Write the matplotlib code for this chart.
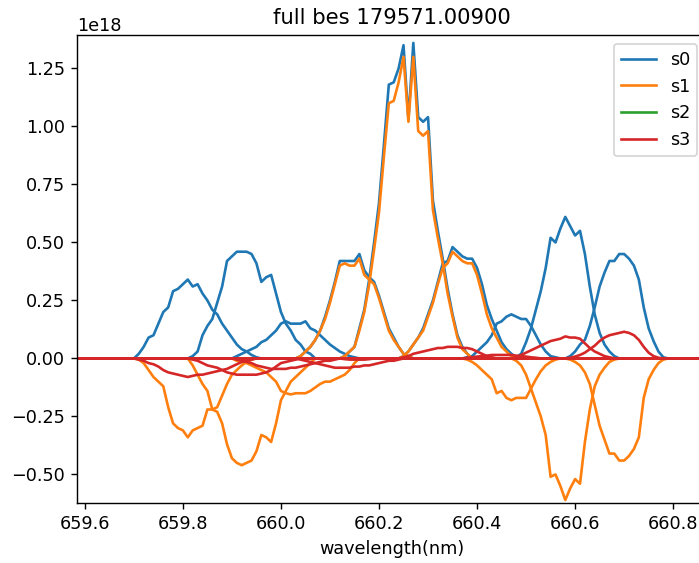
import numpy as np
import matplotlib
matplotlib.use("Agg")
import matplotlib.pyplot as plt

# the reference is a screenshot of a default 100 dpi figure, scaled by ~1.27
S = 1.266

plt.rcParams.update({
    "font.size": 10 * S,
    "lines.linewidth": 1.5 * S,
    "axes.linewidth": 0.8 * S,
    "xtick.major.size": 3.5 * S,
    "ytick.major.size": 3.5 * S,
    "xtick.major.width": 0.8 * S,
    "ytick.major.width": 0.8 * S,
    "xtick.major.pad": 3.5 * S,
    "ytick.major.pad": 3.5 * S,
    "axes.titlepad": 6.0 * S,
    "axes.labelpad": 4.0 * S,
    "patch.linewidth": 1.0 * S,
})

title = "full bes 179571.00900"
series_names = ["s0", "s1", "s2", "s3"]
series_colors = ["tab:blue", "tab:orange", "tab:green", "tab:red"]

# common wavelength grid of the spectrometer (nm)
wl_start = 659.55
wl_step = 0.01
n_wl = 136
wavelength = np.round(wl_start + wl_step * np.arange(n_wl), 2)

# first wavelength of the non-zero stretch of each channel
channel_start = [659.70, 659.81, 659.90, 660.03, 660.12, 660.24, 660.37, 660.47, 660.58]

# values in units of 1e18, one list per channel
s0 = [
    [0, 0.02, 0.05, 0.09, 0.10, 0.15, 0.20, 0.22, 0.29, 0.30, 0.32, 0.34, 0.31, 0.32,
     0.28, 0.25, 0.21, 0.19, 0.15, 0.12, 0.09, 0.06, 0.04, 0.03, 0.015, 0.005, 0],
    [0, 0.01, 0.03, 0.10, 0.14, 0.17, 0.24, 0.31, 0.42, 0.44, 0.46, 0.46, 0.46, 0.45,
     0.41, 0.33, 0.35, 0.36, 0.28, 0.20, 0.15, 0.12, 0.08, 0.06, 0.03, 0.02, 0],
    [0, 0.01, 0.02, 0.03, 0.04, 0.05, 0.07, 0.08, 0.10, 0.12, 0.15, 0.16, 0.15, 0.15,
     0.15, 0.16, 0.13, 0.12, 0.10, 0.08, 0.06, 0.045, 0.03, 0.02, 0.01, 0.005, 0],
    [0, 0.01, 0.03, 0.05, 0.08, 0.12, 0.18, 0.25, 0.33, 0.42, 0.42, 0.42, 0.42, 0.45,
     0.38, 0.35, 0.33, 0.27, 0.20, 0.13, 0.09, 0.05, 0.02, 0.01, 0],
    [0, 0.01, 0.03, 0.05, 0.13, 0.21, 0.34, 0.50, 0.67, 0.92, 1.18, 1.19, 1.25, 1.35,
     1.03, 1.36, 1.04, 1.02, 1.04, 0.68, 0.55, 0.43, 0.30, 0.19, 0.10, 0.05, 0.02, 0],
    [0, 0.01, 0.03, 0.06, 0.09, 0.13, 0.19, 0.25, 0.33, 0.41, 0.42, 0.48, 0.46, 0.44,
     0.43, 0.43, 0.39, 0.32, 0.23, 0.17, 0.12, 0.07, 0.04, 0.02, 0.005, 0],
    [0, 0.005, 0.01, 0.03, 0.05, 0.07, 0.10, 0.15, 0.16, 0.18, 0.19, 0.18, 0.17, 0.17,
     0.14, 0.10, 0.06, 0.03, 0.01, 0.005, 0],
    [0, 0.005, 0.02, 0.07, 0.13, 0.21, 0.29, 0.39, 0.52, 0.50, 0.56, 0.61, 0.57, 0.53,
     0.55, 0.45, 0.31, 0.19, 0.11, 0.06, 0.03, 0.01, 0],
    [0, 0.01, 0.03, 0.06, 0.08, 0.14, 0.22, 0.31, 0.37, 0.42, 0.42, 0.45, 0.45, 0.43,
     0.40, 0.34, 0.22, 0.13, 0.075, 0.03, 0.005, 0],
]

s1 = [
    [0, -0.005, -0.02, -0.05, -0.08, -0.10, -0.12, -0.21, -0.28, -0.30, -0.31, -0.34,
     -0.31, -0.30, -0.29, -0.22, -0.22, -0.21, -0.16, -0.11, -0.07, -0.05, -0.03,
     -0.015, -0.005, 0],
    [0, -0.03, -0.07, -0.11, -0.14, -0.22, -0.23, -0.28, -0.37, -0.43, -0.45, -0.46,
     -0.45, -0.44, -0.40, -0.33, -0.34, -0.36, -0.28, -0.18, -0.14, -0.10, -0.08,
     -0.06, -0.04, -0.02, 0],
    [0, -0.01, -0.015, -0.02, -0.03, -0.04, -0.05, -0.06, -0.08, -0.10, -0.14, -0.15,
     -0.155, -0.15, -0.15, -0.15, -0.14, -0.125, -0.11, -0.10, -0.10, -0.09, -0.08,
     -0.07, -0.05, -0.02, 0],
    [0, 0.01, 0.03, 0.05, 0.08, 0.12, 0.17, 0.24, 0.32, 0.40, 0.41, 0.40, 0.40, 0.43,
     0.36, 0.34, 0.32, 0.26, 0.19, 0.12, 0.08, 0.05, 0.02, 0.01, 0],
    [0, 0.01, 0.03, 0.05, 0.12, 0.20, 0.32, 0.47, 0.63, 0.87, 1.10, 1.11, 1.19, 1.30,
     1.02, 1.30, 0.98, 0.96, 0.98, 0.64, 0.52, 0.41, 0.28, 0.18, 0.09, 0.04, 0.02, 0],
    [0, 0.01, 0.03, 0.06, 0.09, 0.12, 0.18, 0.24, 0.32, 0.39, 0.41, 0.46, 0.44, 0.42,
     0.41, 0.41, 0.36, 0.28, 0.19, 0.13, 0.09, 0.05, 0.03, 0.01, 0.005, 0],
    [0, -0.005, -0.015, -0.03, -0.05, -0.07, -0.09, -0.15, -0.14, -0.17, -0.18, -0.17,
     -0.17, -0.17, -0.13, -0.09, -0.055, -0.03, -0.015, -0.005, 0],
    [0, -0.01, -0.03, -0.07, -0.13, -0.19, -0.25, -0.33, -0.51, -0.50, -0.55, -0.61,
     -0.56, -0.52, -0.54, -0.36, -0.22, -0.12, -0.07, -0.04, -0.015, -0.005, 0],
    [0, -0.005, -0.015, -0.03, -0.06, -0.11, -0.20, -0.29, -0.35, -0.41, -0.41, -0.44,
     -0.44, -0.42, -0.39, -0.34, -0.17, -0.09, -0.05, -0.02, -0.005, 0],
]

s2 = [[0.0], [0.0], [0.0], [0.0], [0.0], [0.0], [0.0], [0.0], [0.0]]

s3 = [
    [0, -0.005, -0.01, -0.02, -0.025, -0.035, -0.05, -0.06, -0.065, -0.07, -0.075,
     -0.08, -0.075, -0.07, -0.07, -0.065, -0.06, -0.055, -0.05, -0.045, -0.035,
     -0.025, -0.015, -0.01, -0.005, 0],
    [0, -0.005, -0.01, -0.02, -0.03, -0.035, -0.04, -0.05, -0.06, -0.065, -0.07,
     -0.07, -0.07, -0.07, -0.07, -0.065, -0.06, -0.05, -0.035, -0.02, -0.015, -0.01,
     -0.005, 0],
    [0, -0.005, -0.01, -0.015, -0.02, -0.03, -0.035, -0.04, -0.045, -0.045, -0.045,
     -0.045, -0.04, -0.04, -0.035, -0.03, -0.025, -0.02, -0.015, -0.01, -0.01,
     -0.005, 0],
    [0, -0.005, -0.01, -0.015, -0.02, -0.025, -0.03, -0.035, -0.04, -0.04, -0.04,
     -0.04, -0.035, -0.035, -0.03, -0.03, -0.025, -0.02, -0.015, -0.01, -0.01,
     -0.005, 0],
    [0, -0.003, -0.005, -0.005, -0.005, -0.005, -0.003, 0],
    [0, 0.005, 0.01, 0.02, 0.025, 0.03, 0.035, 0.04, 0.045, 0.045, 0.05, 0.05, 0.05,
     0.045, 0.045, 0.04, 0.03, 0.02, 0.01, 0.005, 0],
    [0, 0.003, 0.005, 0.008, 0.01, 0.012, 0.015, 0.015, 0.015, 0.015, 0.015, 0.012,
     0.01, 0.008, 0.005, 0.003, 0],
    [0, 0.005, 0.015, 0.025, 0.035, 0.045, 0.055, 0.065, 0.075, 0.08, 0.085, 0.095,
     0.09, 0.09, 0.085, 0.065, 0.045, 0.03, 0.02, 0.01, 0.005, 0],
    [0, 0.003, 0.008, 0.015, 0.025, 0.04, 0.055, 0.075, 0.09, 0.10, 0.105, 0.11,
     0.115, 0.11, 0.10, 0.08, 0.05, 0.025, 0.01, 0.003, 0],
]

unit = 1e18
x_range = (659.584, 660.867)
y_range = (-0.623, 1.394)


def spectrum(start, vals):
    y = np.zeros(n_wl)
    i = int(round((start - wl_start) / wl_step))
    y[i:i + len(vals)] = vals
    return y * unit


fig = plt.figure(figsize=(6.99, 5.63), dpi=100)
# axes run slightly past the right edge, as in the cropped screenshot
ax = fig.add_axes([77 / 699, 60 / 563, 629 / 699, 468 / 563])

for name, color, data in zip(series_names, series_colors, [s0, s1, s2, s3]):
    for k, (start, vals) in enumerate(zip(channel_start, data)):
        ax.plot(wavelength, spectrum(start, vals), color=color,
                label=name if k == 0 else None)

ax.set_xlim(*x_range)
ax.set_ylim(y_range[0] * unit, y_range[1] * unit)
ax.set_xticks([659.6, 659.8, 660.0, 660.2, 660.4, 660.6, 660.8])
ax.set_yticks(np.array([-0.5, -0.25, 0, 0.25, 0.5, 0.75, 1.0, 1.25]) * unit)
ax.set_title(title)
ax.set_xlabel("wavelength(nm)")
ax.legend(loc="upper right")

fig.savefig("out.png", dpi=100)
plt.close(fig)
